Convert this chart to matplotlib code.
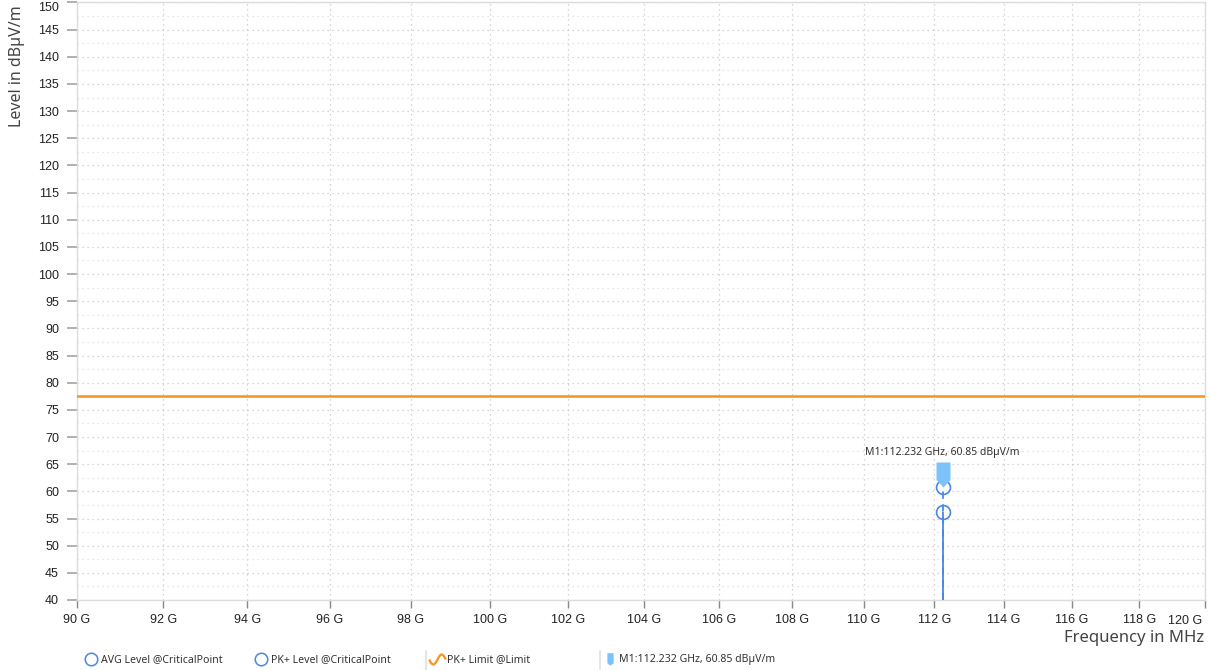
import matplotlib
matplotlib.use("Agg")
import matplotlib.pyplot as plt
import numpy as np
from matplotlib.lines import Line2D
from matplotlib.path import Path
from matplotlib.ticker import FixedLocator, FuncFormatter, MultipleLocator

# data (frequencies in MHz)
x_range = [90000, 120000]
y_range = [40, 150]
x_ticks = [90000, 92000, 94000, 96000, 98000, 100000, 102000, 104000, 106000,
           108000, 110000, 112000, 114000, 116000, 118000, 120000]
limit_level = 77.5
crit_freq = [112232]
avg_level = [56.2]
pk_level = [60.85]
marker_freq = 112232
marker_level = 60.85
marker_text = "M1:112.232 GHz, 60.85 dBµV/m"

BLUE = "#4a86e8"
ORANGE = "#f7941d"
FLAG = "#7cc2fb"
GRID = "#c8c8c8"
SPINE = "#dcdcdc"
UI_FONT = ["Noto Sans", "DejaVu Sans"]
TICK_FONT = ["Liberation Sans", "DejaVu Sans"]

# bookmark-like flag whose tip sits on the anchor point
flag_codes = [Path.MOVETO, Path.LINETO, Path.LINETO, Path.LINETO, Path.LINETO, Path.CLOSEPOLY]
flag_path = Path([(0, 0), (-0.28, 0.3), (-0.28, 1.0), (0.28, 1.0), (0.28, 0.3), (0, 0)], flag_codes)
# same shape, centred, for the legend
flag_icon = Path([(0, -1.0), (-0.5, -0.6), (-0.5, 1.0), (0.5, 1.0), (0.5, -0.6), (0, -1.0)], flag_codes)
t = np.linspace(0, 2 * np.pi, 40)
sine_path = Path(np.column_stack([t / np.pi - 1, -0.6 * np.sin(t)]))


def tick_label(v, pos):
    # the last label is placed by hand so it stays inside the figure
    if v >= x_range[1]:
        return ""
    return f"{v / 1000:.0f} G"


fig = plt.figure(figsize=(12.14, 6.70), dpi=100)
ax = fig.add_axes([0.0634, 0.1045, 0.9292, 0.8918])
ax.set_xscale("log")
ax.set_xlim(*x_range)
ax.set_ylim(*y_range)

# grid
ax.yaxis.set_major_locator(MultipleLocator(5))
ax.yaxis.set_minor_locator(MultipleLocator(2.5))
ax.xaxis.set_major_locator(FixedLocator(x_ticks))
ax.xaxis.set_minor_locator(FixedLocator([]))
ax.xaxis.set_major_formatter(FuncFormatter(tick_label))
ax.grid(which="major", axis="both", color=GRID, linestyle=(0, (1, 3)), linewidth=0.9)
ax.grid(which="minor", axis="y", color="#dedede", linestyle=(0, (1, 3)), linewidth=0.9)
ax.set_axisbelow(True)

for s in ax.spines.values():
    s.set_color(SPINE)
    s.set_linewidth(1.0)

ax.tick_params(axis="y", which="major", length=7, width=1.4, color="#b0b0b0",
               labelsize=9, labelcolor="#222222", pad=6)
ax.tick_params(axis="y", which="minor", length=0)
ax.tick_params(axis="x", which="major", length=6, width=1.0, color="#888888",
               labelsize=9, labelcolor="#222222", pad=4)
ax.annotate(f"{x_range[1] / 1000:.0f} G", (1.0, 0.0), xycoords="axes fraction",
            xytext=(-2, -15), textcoords="offset points", ha="right", va="center",
            fontsize=9, color="#222222", family=TICK_FONT)

# limit line
ax.axhline(limit_level, color=ORANGE, linewidth=1.8, zorder=3)

# critical points with stems
ax.vlines(crit_freq, y_range[0], pk_level, color=BLUE, linewidth=1.3,
          linestyles=(0, (4, 3)), zorder=4)
ax.vlines(crit_freq, y_range[0], avg_level, color=BLUE, linewidth=1.3, zorder=4)
ax.plot(crit_freq, avg_level, "o", ms=10, mfc="none", mec=BLUE, mew=1.2, zorder=5)
ax.plot(crit_freq, pk_level, "o", ms=10, mfc="none", mec=BLUE, mew=1.2, zorder=5)

# marker flag and label
ax.plot([marker_freq], [marker_level], marker=flag_path, ms=36, color=FLAG,
        mec=FLAG, mew=0, linestyle="none", zorder=6)
ax.annotate(marker_text, (marker_freq, marker_level), xytext=(0, 24.5),
            textcoords="offset points", ha="center", va="center", fontsize=7.5,
            color="#333333", family=UI_FONT)

# axis labels
ax.set_ylabel("Level in dBµV/m", fontsize=11.5, color="#444444", family=UI_FONT, loc="top")
ax.yaxis.set_label_coords(-0.0457, 0.995)
ax.set_xlabel("Frequency in MHz", fontsize=12, color="#444444", family=UI_FONT, loc="right")
ax.xaxis.set_label_coords(0.999, -0.05)

# legend, one box per entry
entries = [
    (Line2D([], [], marker="o", ms=9, mfc="none", mec=BLUE, mew=1.1, ls="none"),
     "AVG Level @CriticalPoint", 0.070),
    (Line2D([], [], marker="o", ms=9, mfc="none", mec=BLUE, mew=1.1, ls="none"),
     "PK+ Level @CriticalPoint", 0.210),
    (Line2D([], [], marker=sine_path, ms=12, mfc="none", mec=ORANGE, mew=1.6, ls="none"),
     "PK+ Limit @Limit", 0.355),
    (Line2D([], [], marker=flag_icon, ms=9, color=FLAG, mew=0, ls="none"),
     marker_text, 0.497),
]
for handle, label, xpos in entries:
    fig.legend(handles=[handle], labels=[label], loc="center left",
               bbox_to_anchor=(xpos, 0.015), frameon=False, handlelength=1.2,
               handletextpad=0.3, borderaxespad=0, borderpad=0,
               prop={"family": UI_FONT, "size": 7.6}, labelcolor="#333333")
for xs in [0.351, 0.494]:
    fig.add_artist(Line2D([xs, xs], [0.002, 0.028], color="#e0e0e0", lw=1.2,
                          transform=fig.transFigure))

fig.canvas.draw()
for lab in ax.get_xticklabels() + ax.get_yticklabels():
    lab.set_fontfamily(TICK_FONT)
    if lab.get_text() == str(y_range[1]):
        lab.set_verticalalignment("top")

fig.savefig("out.png", dpi=100)
